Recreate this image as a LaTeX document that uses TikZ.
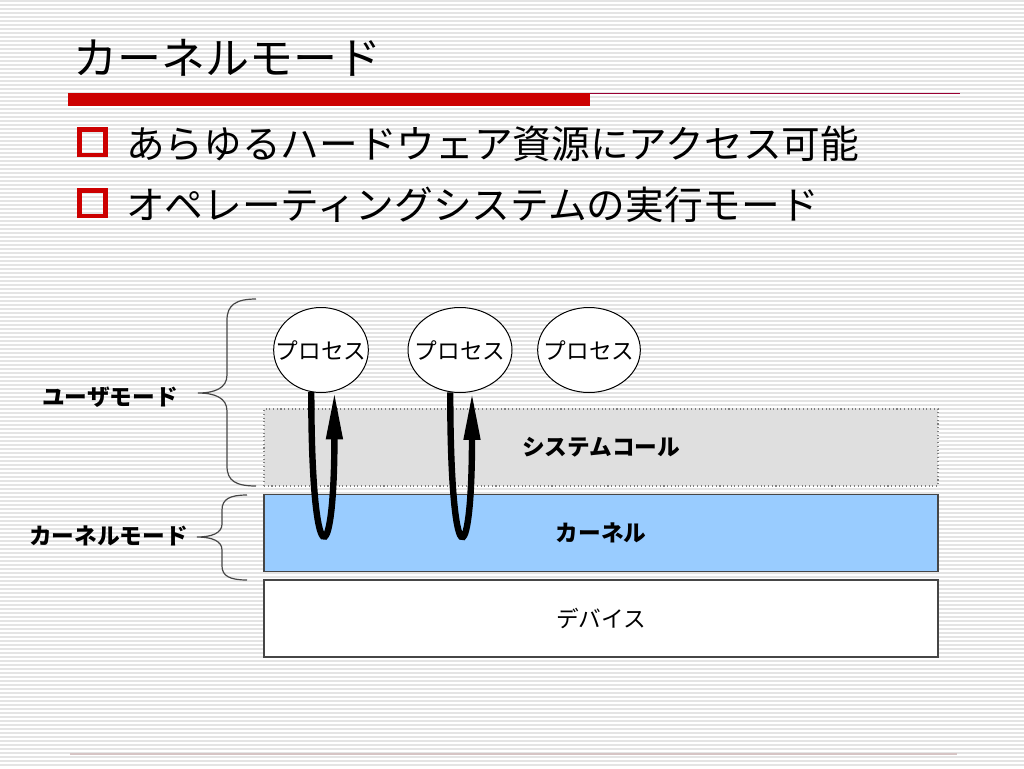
\documentclass[tikz,border=0pt]{standalone}
\usepackage{fontspec}
\setmainfont{Noto Sans CJK JP}
\usetikzlibrary{arrows.meta,shapes.geometric,calc}
\definecolor{barred}{RGB}{204,0,0}
\definecolor{thinred}{RGB}{153,0,51}
\definecolor{kblue}{RGB}{153,204,255}
\definecolor{scgray}{RGB}{223,223,223}
\definecolor{stripe}{RGB}{228,228,228}
\definecolor{edge}{RGB}{70,70,70}
\definecolor{footline}{RGB}{214,196,196}
\begin{document}
\begin{tikzpicture}[x=0.75pt,y=-0.75pt,
  stripeline/.style={draw=stripe,line width=1.1pt},
  layerbox/.style={rectangle,minimum width=505.5pt,minimum height=57.75pt,inner sep=0pt,font=\fontsize{17}{20}\selectfont},
  proc/.style={ellipse,draw=black,line width=0.75pt,fill=white,minimum height=63.75pt,inner sep=0pt,font=\fontsize{17}{19}\selectfont},
  uarrow/.style={draw=black,line width=4.8pt,-{Triangle[length=36pt,width=11.5pt]}},
  bracepath/.style={draw=edge,line width=0.9pt},
  modelabel/.style={font=\bfseries\fontsize{17}{20}\selectfont,inner sep=0pt},
  bullet/.style={draw=barred,line width=3.2pt},
  bullettext/.style={font=\fontsize{29}{32}\selectfont,inner sep=0pt,anchor=west}
]
\useasboundingbox (0,0) rectangle (1024,768);
\fill[white] (0,0) rectangle (1024,768);
\foreach \yy in {1,5,...,767} \draw[stripeline] (0,\yy) -- (1024,\yy);

% title
\node[inner sep=0pt,anchor=west,font=\fontsize{33}{36}\selectfont] (title) at (73,58) {カーネルモード};
\fill[barred] (68,93) rectangle (590,106);
\draw[thinred,line width=1.1pt] (590,93.5) -- (960,93.5);

% bullets
\draw[bullet] (79.5,129.5) rectangle (105.5,155);
\node[bullettext] (b1) at (126,144) {あらゆるハードウェア資源にアクセス可能};
\draw[bullet] (79.5,190.5) rectangle (105.5,216);
\node[bullettext] (b2) at (126,205) {オペレーティングシステムの実行モード};

% layers
\node[layerbox,fill=scgray,draw=gray,dotted,line width=0.8pt] (sc) at (601,447.5) {\bfseries システムコール};
\node[layerbox,fill=kblue,draw=edge,line width=1.1pt] (kern) at (601,533) {\bfseries カーネル};
\node[layerbox,fill=white,draw=edge,line width=1.1pt] (dev) at (601,618.5) {デバイス};

% processes
\node[proc,minimum width=71pt] (p1) at (321,350) {\makebox[0pt]{プロセス}};
\node[proc,minimum width=78pt] (p2) at (460,350) {\makebox[0pt]{プロセス}};
\node[proc,minimum width=77pt] (p3) at (589,350) {\makebox[0pt]{プロセス}};

% system call arrows
\draw[uarrow] (p1.-103) .. controls +(0,185) and +(0,185) .. (p1.-72);
\draw[uarrow] (p2.-103) .. controls +(0,185) and +(0,185) .. (p2.-74);

% braces
\coordinate (ut) at (198,393);
\coordinate (kt) at (197,537);
\draw[bracepath] (256,299) .. controls (236,299) and (227,305) .. (227,320) -- (227,375)
  .. controls (227,388) and (215,393) .. (ut)
  .. controls (215,393) and (227,398) .. (227,411) -- (227,466)
  .. controls (227,481) and (236,486) .. (256,486);
\draw[bracepath] (247,495) .. controls (230,495) and (222,499) .. (222,510) -- (222,524)
  .. controls (222,533) and (212,537) .. (kt)
  .. controls (212,537) and (222,541) .. (222,550) -- (222,566)
  .. controls (222,576) and (230,580) .. (247,580);
\node[modelabel,anchor=east] (um) at ($(ut)+(-20,4)$) {ユーザモード};
\node[modelabel,anchor=east] (km) at ($(kt)+(-9,-1)$) {カーネルモード};

% footer line
\draw[footline,line width=1.1pt] (70,754) -- (957,754);
\end{tikzpicture}
\end{document}
